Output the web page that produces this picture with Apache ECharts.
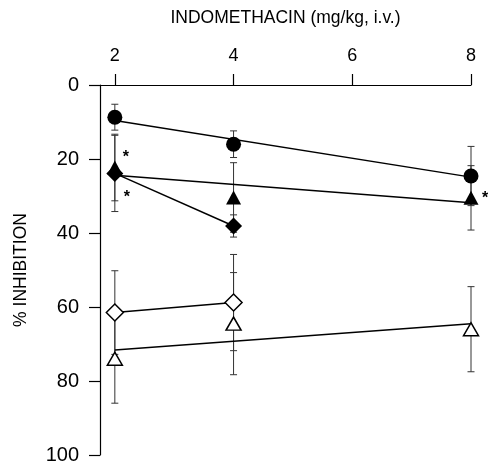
<!DOCTYPE html>
<html>
<head>
<meta charset="utf-8">
<script src="https://cdn.jsdelivr.net/npm/echarts@6/dist/echarts.min.js"></script>
<style>html,body{margin:0;padding:0;background:#fff;}#c{width:488px;height:467px;}</style>
</head>
<body>
<div id="c"></div>
<script>
// Doses (mg/kg, i.v.)
const doses3 = [2, 4, 8];
const doses2 = [2, 4];
const xTicks = [2, 4, 6, 8];

// Filled circles
const circleMean = [8.7, 16.0, 24.6];
const circleErr  = [3.5, 3.6, 8.0];
// Filled triangles
const fTriMean = [22.3, 30.4, 30.5];
const fTriErr  = [9.0, 9.4, 8.7];
// Filled diamonds
const fDiaMean = [23.9, 38.1];
const fDiaErr  = [10.3, 3.0];
// Open diamonds
const oDiaMean = [61.5, 58.8];
const oDiaErr  = [11.3, 13.0];
// Open triangles
const oTriMean = [74.0, 64.5, 66.0];
const oTriErr  = [12.0, 13.8, 11.5];

// Fitted lines (endpoints at dose 2 and 8)
const fitX = [2, 8];
const circleFit = [9.6, 24.9];
const fTriFit   = [24.4, 31.8];
const oTriFit   = [71.6, 64.5];

function pairs(xs, ys) { return xs.map((x, i) => [x, ys[i]]); }
function errData(xs, m, e) { return xs.map((x, i) => [x, m[i] - e[i], m[i] + e[i]]); }

const errorBars = [].concat(
  errData(doses3, circleMean, circleErr),
  errData(doses3, fTriMean, fTriErr),
  errData(doses2, fDiaMean, fDiaErr),
  errData(doses2, oDiaMean, oDiaErr),
  errData(doses3, oTriMean, oTriErr)
);

const star = (dx, dy) => ({
  show: true, position: 'inside', formatter: '*', offset: [dx, dy],
  color: '#000', fontSize: 16, fontWeight: 'bold', fontFamily: 'Liberation Sans, Arial, sans-serif'
});

const fTriData = pairs(doses3, fTriMean).map((v, i) => {
  if (i === 0) return { value: v, label: star(11, -10) };
  if (i === 2) return { value: v, label: star(14, 1) };
  return { value: v };
});
const fDiaData = pairs(doses2, fDiaMean).map((v, i) => {
  if (i === 0) return { value: v, label: star(12, 24) };
  return { value: v };
});

const font = 'Liberation Sans, Arial, Helvetica, sans-serif';
const chart = echarts.init(document.getElementById('c'));
chart.setOption({
  animation: false,
  backgroundColor: '#fff',
  grid: { left: 100, right: 17, top: 85, bottom: 12, containLabel: false },
  xAxis: {
    type: 'value', position: 'top', min: 1.75, max: 8,
    name: 'INDOMETHACIN (mg/kg, i.v.)', nameLocation: 'middle', nameGap: 58,
    nameTextStyle: { fontFamily: font, fontSize: 17.5, color: '#000' },
    axisLine: { show: true, onZero: false, lineStyle: { color: '#000', width: 1.2 } },
    axisTick: { show: true, customValues: xTicks, length: 11, lineStyle: { color: '#000', width: 1.2 } },
    axisLabel: { customValues: xTicks, margin: 20, fontFamily: font, fontSize: 18, color: '#000' },
    splitLine: { show: false }
  },
  yAxis: {
    type: 'value', inverse: true, min: 0, max: 100, interval: 20,
    name: '% INHIBITION', nameLocation: 'middle', nameGap: 70,
    nameTextStyle: { fontFamily: font, fontSize: 17.5, color: '#000' },
    axisLine: { show: true, onZero: false, lineStyle: { color: '#000', width: 1.2 } },
    axisTick: { show: true, length: 11, lineStyle: { color: '#000', width: 1.2 } },
    axisLabel: { margin: 21, fontFamily: font, fontSize: 20, color: '#000' },
    splitLine: { show: false }
  },
  series: [
    {
      type: 'custom', name: 'err', z: 1, silent: true,
      data: errorBars,
      renderItem: function (params, api) {
        const x = api.value(0);
        const lo = api.coord([x, api.value(1)]);
        const hi = api.coord([x, api.value(2)]);
        const w = 3.5;
        const st = { stroke: '#333', lineWidth: 1 };
        return { type: 'group', children: [
          { type: 'line', shape: { x1: lo[0], y1: lo[1], x2: hi[0], y2: hi[1] }, style: st },
          { type: 'line', shape: { x1: lo[0] - w, y1: lo[1], x2: lo[0] + w, y2: lo[1] }, style: st },
          { type: 'line', shape: { x1: hi[0] - w, y1: hi[1], x2: hi[0] + w, y2: hi[1] }, style: st }
        ]};
      }
    },
    { type: 'line', name: 'circleFit', z: 2, data: pairs(fitX, circleFit), symbol: 'none', lineStyle: { color: '#000', width: 1.5 } },
    { type: 'line', name: 'fTriFit', z: 2, data: pairs(fitX, fTriFit), symbol: 'none', lineStyle: { color: '#000', width: 1.5 } },
    { type: 'line', name: 'oTriFit', z: 2, data: pairs(fitX, oTriFit), symbol: 'none', lineStyle: { color: '#000', width: 1.5 } },
    { type: 'line', name: 'fDia', z: 3, data: fDiaData, symbol: 'diamond', symbolSize: [17, 17],
      itemStyle: { color: '#000', opacity: 1 }, lineStyle: { color: '#000', width: 1.5 } },
    { type: 'line', name: 'oDia', z: 3, data: pairs(doses2, oDiaMean), symbol: 'diamond', symbolSize: [17, 17],
      itemStyle: { color: '#fff', borderColor: '#000', borderWidth: 1.5, opacity: 1 }, lineStyle: { color: '#000', width: 1.5 } },
    { type: 'scatter', name: 'circle', z: 4, data: pairs(doses3, circleMean), symbol: 'circle', symbolSize: 15,
      itemStyle: { color: '#000', opacity: 1 } },
    { type: 'scatter', name: 'fTri', z: 4, data: fTriData, symbol: 'triangle', symbolSize: [15, 14],
      itemStyle: { color: '#000', opacity: 1 } },
    { type: 'scatter', name: 'oTri', z: 4, data: pairs(doses3, oTriMean), symbol: 'triangle', symbolSize: [15, 13],
      itemStyle: { color: '#fff', borderColor: '#000', borderWidth: 1.5, opacity: 1 } }
  ]
});
</script>
</body>
</html>
